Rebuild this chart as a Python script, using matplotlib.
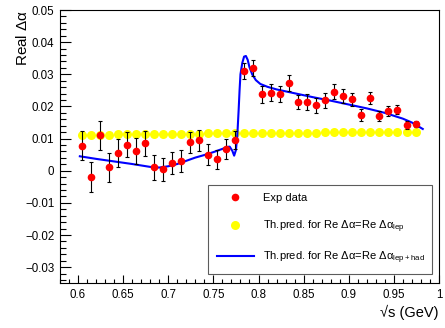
import matplotlib
matplotlib.use("Agg")
import matplotlib.pyplot as plt
from matplotlib.lines import Line2D
from matplotlib.ticker import MultipleLocator, FuncFormatter

plt.rcParams['font.family'] = ['Liberation Sans', 'DejaVu Sans']
plt.rcParams['mathtext.default'] = 'regular'

# measured points: sqrt(s), Re(delta alpha), error
energy = [0.604, 0.614, 0.624, 0.634, 0.644, 0.654, 0.664, 0.674, 0.684, 0.694,
          0.704, 0.714, 0.724, 0.734, 0.744, 0.754, 0.764, 0.774, 0.784, 0.794,
          0.804, 0.814, 0.824, 0.834, 0.844, 0.854, 0.864, 0.874, 0.884, 0.894,
          0.904, 0.914, 0.924, 0.934, 0.944, 0.954, 0.964, 0.974]
re_da = [0.0078, -0.0020, 0.0110, 0.0011, 0.0056, 0.0081, 0.0061, 0.0085, 0.0011, 0.0004,
         0.0024, 0.0030, 0.0088, 0.0095, 0.0050, 0.0036, 0.0068, 0.0095, 0.0311, 0.0320,
         0.0238, 0.0243, 0.0238, 0.0273, 0.0214, 0.0214, 0.0203, 0.0219, 0.0246, 0.0232,
         0.0222, 0.0173, 0.0226, 0.0171, 0.0186, 0.0189, 0.0143, 0.0146]
re_da_err = [0.0045, 0.0047, 0.0045, 0.0045, 0.0044, 0.0039, 0.0040, 0.0038, 0.0039, 0.0037,
             0.0035, 0.0034, 0.0033, 0.0033, 0.0032, 0.0030, 0.0030, 0.0028, 0.0025, 0.0025,
             0.0026, 0.0026, 0.0025, 0.0025, 0.0023, 0.0024, 0.0023, 0.0023, 0.0023, 0.0022,
             0.0020, 0.0019, 0.0018, 0.0016, 0.0015, 0.0014, 0.0012, 0.0010]

# leptonic-only prediction at the same energies
re_da_lep = [0.01110, 0.01115, 0.01120, 0.01125, 0.01128, 0.01132, 0.01135, 0.01138,
             0.01142, 0.01145, 0.01148, 0.01151, 0.01154, 0.01157, 0.01160, 0.01163,
             0.01166, 0.01168, 0.01171, 0.01173, 0.01176, 0.01178, 0.01181, 0.01183,
             0.01185, 0.01188, 0.01190, 0.01192, 0.01194, 0.01196, 0.01198, 0.01200,
             0.01202, 0.01204, 0.01206, 0.01208, 0.01210, 0.01212]

# leptonic + hadronic prediction (rho-omega region)
th_x = [0.602, 0.620, 0.640, 0.660, 0.680, 0.690, 0.700, 0.710, 0.720, 0.730,
        0.740, 0.750, 0.760, 0.765, 0.768, 0.771, 0.773, 0.775, 0.7765, 0.778,
        0.779, 0.780, 0.782, 0.784, 0.786, 0.788, 0.790, 0.793, 0.797, 0.802,
        0.810, 0.820, 0.840, 0.860, 0.880, 0.900, 0.920, 0.940, 0.960, 0.970, 0.982]
th_y = [0.0045, 0.0037, 0.0029, 0.0021, 0.0012, 0.0010, 0.0014, 0.0021, 0.0031, 0.0041,
        0.0049, 0.0058, 0.0068, 0.0074, 0.0075, 0.0062, 0.0047, 0.0065, 0.0110, 0.0190,
        0.0250, 0.0300, 0.0335, 0.0355, 0.0357, 0.0345, 0.0322, 0.0300, 0.0282, 0.0270,
        0.0261, 0.0253, 0.0241, 0.0229, 0.0218, 0.0206, 0.0194, 0.0180, 0.0162, 0.0150, 0.0130]

fig = plt.figure(figsize=(4.45, 3.28), dpi=100)
ax = fig.add_axes([0.1348, 0.1363, 0.8517, 0.8332])

ax.plot(energy, re_da_lep, 'o', color='#ffff00', ms=6.5, mec='none', zorder=2)
ax.plot(th_x, th_y, '-', color='#0000ff', lw=1.5, zorder=3)
ax.errorbar(energy, re_da, yerr=re_da_err, fmt='o', color='#ff0000', ms=5.5, mec='none',
            ecolor='black', elinewidth=0.8, capsize=1.2, capthick=0.8, zorder=4)

ax.set_xlim(0.58, 1.0)
ax.set_ylim(-0.035, 0.05)

ax.xaxis.set_major_locator(MultipleLocator(0.05))
ax.xaxis.set_minor_locator(MultipleLocator(0.01))
ax.yaxis.set_major_locator(MultipleLocator(0.01))
ax.yaxis.set_minor_locator(MultipleLocator(0.002))


def fmt(v, pos):
    if abs(v) < 1e-9:
        return '0'
    return ('%g' % round(v, 4)).replace('-', '\u2212')


ax.xaxis.set_major_formatter(FuncFormatter(fmt))
ax.yaxis.set_major_formatter(FuncFormatter(fmt))

ax.tick_params(axis='both', which='both', direction='in', top=False, right=False,
               labelsize=8.3, width=0.8, colors='black')
ax.tick_params(axis='y', which='major', length=7.9, pad=4)
ax.tick_params(axis='y', which='minor', length=4)
ax.tick_params(axis='x', which='major', length=5.5, pad=4)
ax.tick_params(axis='x', which='minor', length=3)
for s in ax.spines.values():
    s.set_linewidth(0.8)

ax.set_ylabel(r'Real $\Delta\alpha$', fontsize=11, loc='top')
ax.yaxis.set_label_coords(-0.079, 1.0)
ax.set_xlabel('\u221as (GeV)', fontsize=10.5, loc='right', labelpad=3)

# legend entries without error bars
handles = [
    Line2D([], [], ls='none', marker='o', color='#ff0000', ms=5.5, mec='none'),
    Line2D([], [], ls='none', marker='o', color='#ffff00', ms=6.5, mec='none'),
    Line2D([], [], color='#0000ff', lw=1.5),
]
labels = [
    'Exp data',
    r'Th.pred. for Re $\Delta\alpha$=Re $\Delta\alpha_{lep}$',
    r'Th.pred. for Re $\Delta\alpha$=Re $\Delta\alpha_{lep+had}$',
]
leg = ax.legend(handles, labels,
                bbox_to_anchor=(0.391, 0.061, 0.591, 0.299), loc='upper left',
                mode='expand', borderaxespad=0, fontsize=8, frameon=True, fancybox=False,
                edgecolor='#333333', borderpad=0.75, handlelength=3.4,
                handletextpad=0.75, labelspacing=1.35, numpoints=1)
leg.get_frame().set_linewidth(0.8)

fig.savefig('out.png', dpi=100)
